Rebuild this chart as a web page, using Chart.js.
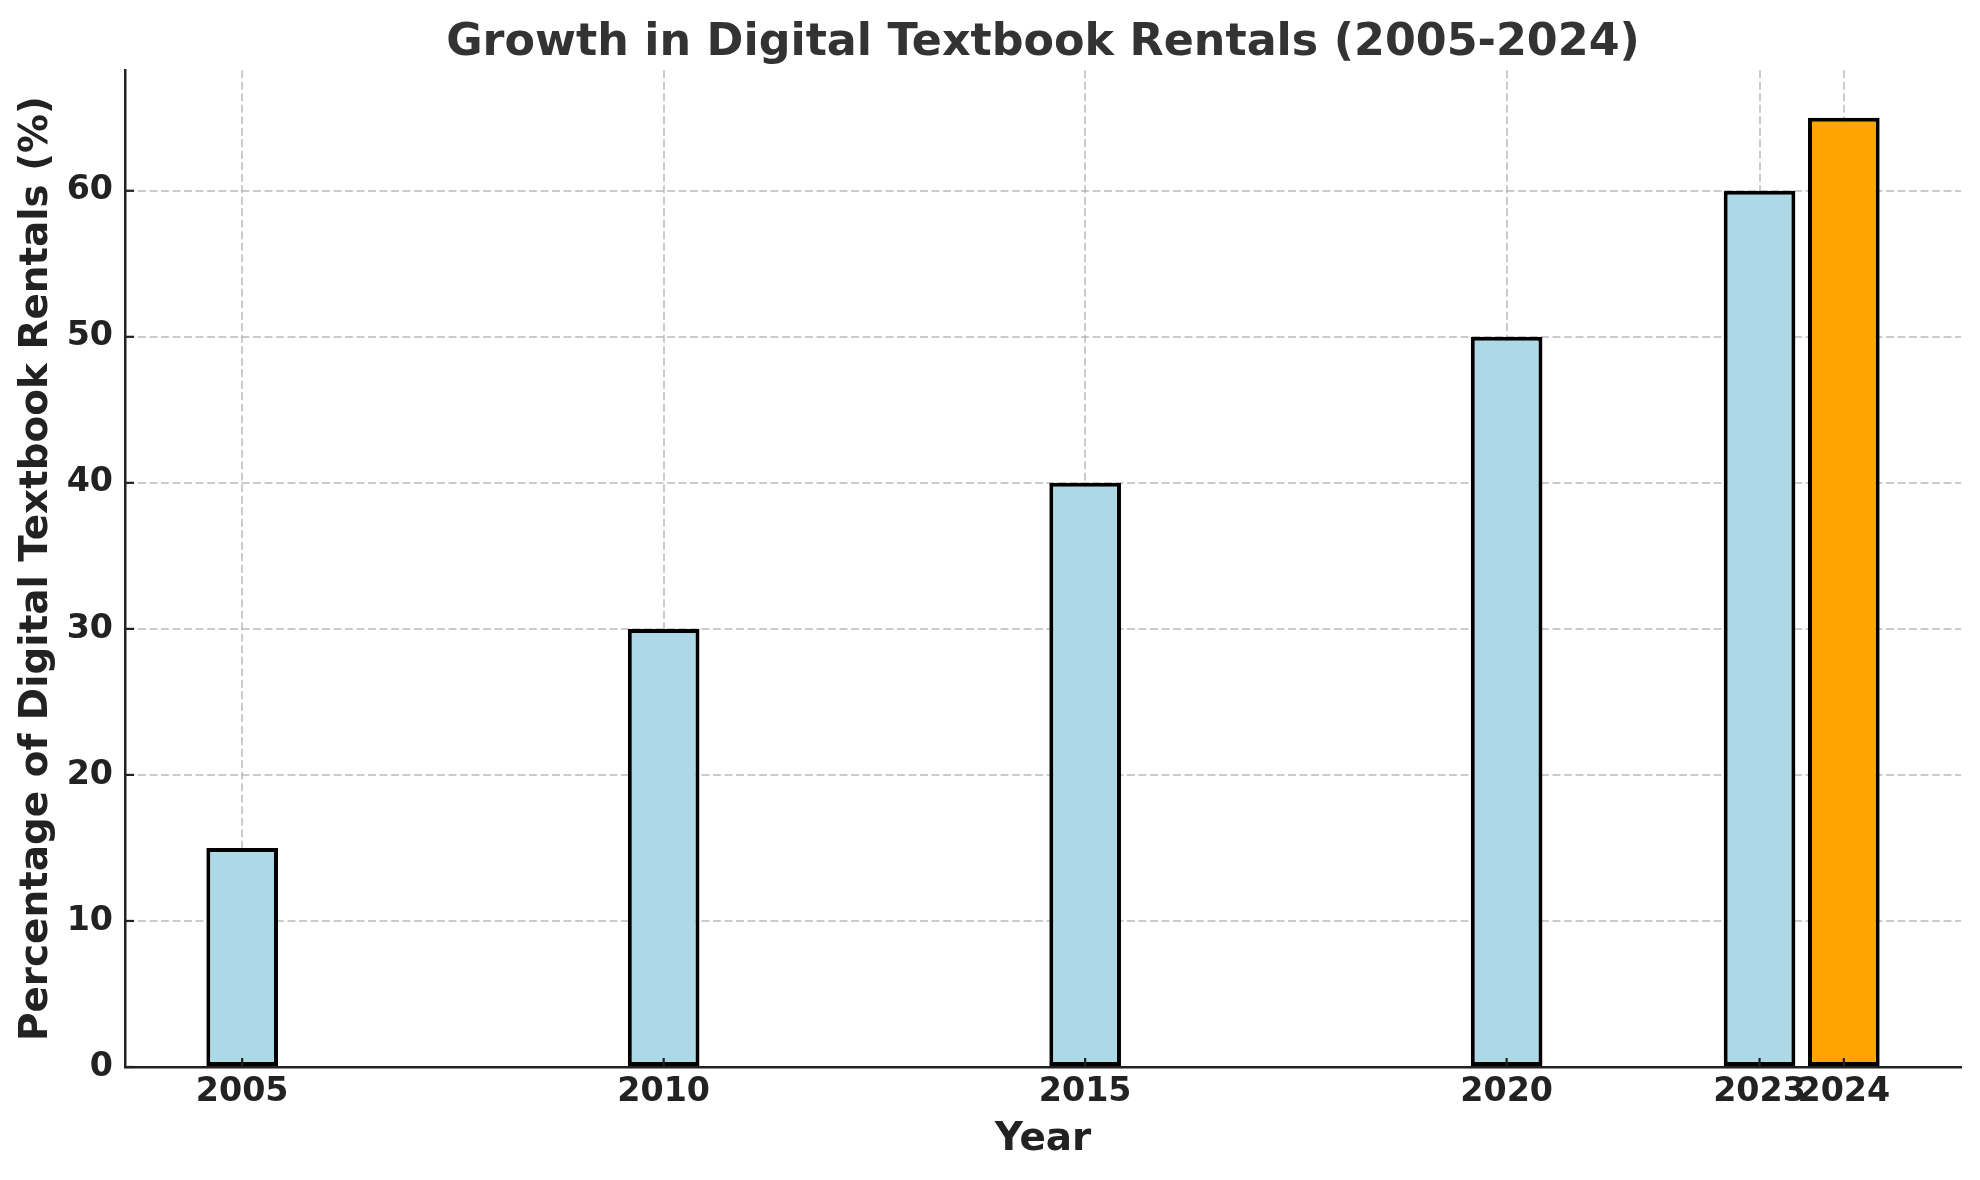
<!DOCTYPE html>
<html>
<head>
<meta charset="utf-8">
<title>Growth in Digital Textbook Rentals</title>
<script src="https://cdn.jsdelivr.net/npm/chart.js@4.4.1/dist/chart.umd.min.js"></script>
<style>
  html, body { margin: 0; padding: 0; background: #ffffff; }
  #wrap { width: 1980px; height: 1180px; }
</style>
</head>
<body>
<div id="wrap"><canvas id="rentalChart" width="1980" height="1180"></canvas></div>
<script>
// ====== DATA ======
const years = [2005, 2010, 2015, 2020, 2023, 2024];
const rentalShare = [15, 30, 40, 50, 60, 65];
const yTickValues = [0, 10, 20, 30, 40, 50, 60];
const highlightYear = 2024;

// ====== AXIS LIMITS (like matplotlib autoscale with 5% margin) ======
const barWidthYears = 0.8;
const xLow = years[0] - barWidthYears / 2;
const xHigh = years[years.length - 1] + barWidthYears / 2;
const xMin = xLow - 0.05 * (xHigh - xLow);
const xMax = xHigh + 0.05 * (xHigh - xLow);
const yMax = Math.max(...rentalShare) * 1.05;

const FONT = "'DejaVu Sans', 'Liberation Sans', sans-serif";
const AXIS_COLOR = "#222222";
const GRID_COLOR = "rgba(160,160,160,0.55)";

// ====== INWARD TICK MARKS ======
const innerTicks = {
  id: "innerTicks",
  afterDraw(chart) {
    const { ctx, chartArea, scales } = chart;
    ctx.save();
    ctx.strokeStyle = AXIS_COLOR;
    ctx.lineWidth = 2.2;
    years.forEach(v => {
      const x = scales.x.getPixelForValue(v);
      ctx.beginPath();
      ctx.moveTo(x, chartArea.bottom);
      ctx.lineTo(x, chartArea.bottom - 9);
      ctx.stroke();
    });
    yTickValues.forEach(v => {
      const y = scales.y.getPixelForValue(v);
      ctx.beginPath();
      ctx.moveTo(chartArea.left, y);
      ctx.lineTo(chartArea.left + 9, y);
      ctx.stroke();
    });
    ctx.restore();
  }
};

// ====== CHART ======
const points = years.map((yr, i) => ({ x: yr, y: rentalShare[i] }));

new Chart(document.getElementById("rentalChart"), {
  type: "bar",
  data: {
    datasets: [{
      data: points,
      backgroundColor: years.map(yr => yr === highlightYear ? "#FFA500" : "#ADD8E6"),
      borderColor: "#000000",
      borderWidth: 4,
      borderSkipped: false,
      categoryPercentage: 1.0,
      barPercentage: 0.85
    }]
  },
  options: {
    responsive: false,
    animation: false,
    devicePixelRatio: 1,
    layout: { padding: { top: 0, left: 0, right: 19, bottom: 0 } },
    plugins: {
      legend: { display: false },
      tooltip: { enabled: false },
      title: {
        display: true,
        fullSize: false,
        text: "Growth in Digital Textbook Rentals (2005-2024)",
        color: "#333333",
        font: { family: FONT, size: 44.4, weight: "bold" },
        padding: { top: 17, bottom: 0 }
      }
    },
    scales: {
      x: {
        type: "linear",
        min: xMin,
        max: xMax,
        offset: false,
        z: 1,
        afterBuildTicks: scale => { scale.ticks = years.map(v => ({ value: v })); },
        afterFit: scale => { scale.height = 113; },
        grid: {
          offset: false,
          color: GRID_COLOR,
          lineWidth: 2,
          drawTicks: false
        },
        border: { display: true, color: AXIS_COLOR, width: 2.5, dash: [8, 3.5] },
        ticks: {
          autoSkip: false,
          maxRotation: 0,
          minRotation: 0,
          padding: 5,
          color: AXIS_COLOR,
          font: { family: FONT, size: 33.3, weight: "bold" },
          callback: v => String(v)
        },
        title: {
          display: true,
          text: "Year",
          color: AXIS_COLOR,
          font: { family: FONT, size: 38.9, weight: "bold" },
          padding: { top: 0, bottom: 17 }
        }
      },
      y: {
        min: 0,
        max: yMax,
        z: 1,
        afterBuildTicks: scale => { scale.ticks = yTickValues.map(v => ({ value: v })); },
        afterFit: scale => { scale.width = 125; },
        grid: {
          color: GRID_COLOR,
          lineWidth: 2,
          drawTicks: false
        },
        border: { display: true, color: AXIS_COLOR, width: 2.5, dash: [8, 3.5] },
        ticks: {
          padding: 12,
          color: AXIS_COLOR,
          font: { family: FONT, size: 33.3, weight: "bold" }
        },
        title: {
          display: true,
          text: "Percentage of Digital Textbook Rentals (%)",
          color: AXIS_COLOR,
          font: { family: FONT, size: 38.9, weight: "bold" },
          padding: { top: 14, bottom: 0 }
        }
      }
    }
  },
  plugins: [innerTicks]
});
</script>
</body>
</html>
